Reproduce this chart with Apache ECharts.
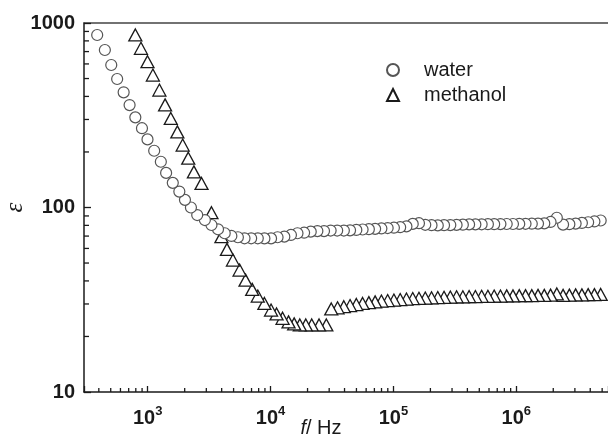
<!DOCTYPE html>
<html>
<head>
<meta charset="utf-8">
<script src="https://cdn.jsdelivr.net/npm/echarts@6/dist/echarts.min.js"></script>
<style>
html, body { margin: 0; padding: 0; background: #fff; }
#chart { width: 608px; height: 437px; }
</style>
</head>
<body>
<div id="chart"></div>
<script>
// water: permittivity vs frequency (Hz)
var waterFreq = [388, 448, 505, 564, 637, 712, 793, 898, 996, 1129, 1279, 1412, 1600, 1809, 2010, 2248, 2529,
    2919, 3303, 3735, 4234, 4796, 5420, 6136, 6950, 7870, 8910, 10090, 11400, 12940, 14650, 16560, 18750,
    21230, 24040, 27230, 30820, 34860, 39500,
    44360, 49890, 56100, 63100, 70960, 79800, 89740, 100900, 113500, 127600, 143600, 161400, 181600, 204200,
    229600, 258200, 290400, 326600, 367300, 413000, 464500, 522400, 587500, 660700, 743000, 835600, 939700,
    1057000, 1189000, 1337000, 1503000, 1690000, 1901000, 2138000, 2404000, 2704000, 3041000, 3420000,
    3846000, 4325000, 4864000];
var waterEps = [861, 714, 592, 497, 421, 359, 308, 269, 234, 203, 177, 154, 136, 122, 110, 100, 91,
    85.5, 80.4, 76.2, 72.5, 70.1, 69.0, 68.1, 68.1, 68.1, 68.0, 68.0, 69.0, 69.5, 71.0, 72.5, 73.0,
    74.0, 74.5, 74.5, 75.0, 75.0, 75.0,
    75.2, 75.6, 76.0, 76.3, 76.6, 77.0, 77.4, 77.7, 78.2, 79.0, 81.5, 82.2, 80.6, 80.2,
    80.0, 80.2, 80.3, 80.5, 80.7, 81.0, 81.0, 81.1, 81.2, 81.2, 81.3, 81.4, 81.4, 81.5, 81.6,
    81.7, 81.8, 82.0, 83.5, 88.0, 80.8, 81.2, 81.8, 82.5, 83.2, 84.0, 85.0];

// methanol
var methFreq = [793, 881, 996, 1102, 1245, 1385, 1541, 1743, 1926, 2138, 2377, 2742,
    3303, 3981, 4416, 4940, 5596, 6256, 7087, 7870, 8910, 10090, 11190, 12520, 14000, 15560, 17300,
    19350, 21630, 24810, 28440,
    31190, 35080, 39450, 44360, 49890, 56100, 63100, 70960, 79800, 89740, 100900, 113500, 127600, 143600,
    161400, 181600, 204200, 229600, 258200, 290400, 326600, 367300, 413000, 464500, 522400, 587500, 660700,
    743000, 835600, 939700, 1057000, 1189000, 1337000, 1503000, 1690000, 1901000, 2138000, 2404000,
    2704000, 3041000, 3420000, 3846000, 4325000, 4864000];
var methEps = [861, 729, 617, 522, 433, 360, 304, 257, 218, 185, 156, 135,
    93.7, 69.5, 59.3, 51.9, 45.8, 40.4, 36.0, 33.1, 30.2, 27.8, 26.5, 25.1, 24.0, 23.4, 23.1,
    23.1, 23.1, 23.1, 23.1,
    28.2, 28.6, 29.0, 29.4, 29.8, 30.2, 30.5, 30.8, 31.1, 31.3, 31.5, 31.7, 31.9, 32.1,
    32.2, 32.3, 32.4, 32.5, 32.6, 32.7, 32.8, 32.8, 32.9, 32.9, 33.0, 33.0, 33.1,
    33.1, 33.2, 33.2, 33.3, 33.3, 33.3, 33.4, 33.4, 33.5, 34.0, 33.4,
    33.5, 33.6, 33.6, 33.7, 33.7, 33.8];

var legendNames = ['water', 'methanol'];
var X_MIN = 303, X_MAX = 5.58e6;
var Y_MIN = 10, Y_MAX = 1000;
var FONT = 'Arial, "Liberation Sans", sans-serif';

var chart = echarts.init(document.getElementById('chart'));

// high frequency first, so the low-frequency markers end up on top
function toPoints(xs, ys) {
    var out = [];
    for (var i = xs.length - 1; i >= 0; i--) out.push([xs[i], ys[i]]);
    return out;
}

// minor log ticks (2..9 in each decade)
var xMinor = [], yMinor = [];
for (var d = 2; d <= 6; d++) {
    for (var k = 2; k <= 9; k++) {
        var v = k * Math.pow(10, d);
        if (v > X_MIN && v < X_MAX) xMinor.push([v, Y_MIN]);
    }
}
for (var d2 = 1; d2 <= 2; d2++) {
    for (var k2 = 2; k2 <= 9; k2++) yMinor.push([X_MIN, k2 * Math.pow(10, d2)]);
}

function minorTicks(data, dx, dy) {
    return {
        type: 'custom',
        data: data,
        silent: true,
        clip: false,
        z: 1,
        renderItem: function (params, api) {
            var p = api.coord([api.value(0), api.value(1)]);
            return {
                type: 'line',
                shape: {x1: p[0], y1: p[1], x2: p[0] + dx, y2: p[1] + dy},
                style: {stroke: '#1a1a1a', lineWidth: 1.3}
            };
        }
    };
}

var option = {
    animation: false,
    backgroundColor: '#fff',
    grid: {left: 84, top: 23, right: 0, bottom: 45, outerBoundsMode: 'none', containLabel: false},
    legend: {
        orient: 'vertical',
        left: 386,
        top: 60,
        padding: 0,
        itemGap: 5,
        itemWidth: 12,
        itemHeight: 12,
        data: legendNames,
        textStyle: {fontFamily: FONT, fontSize: 20, color: '#1a1a1a', padding: [0, 0, 0, 20]}
    },
    xAxis: [{
        type: 'log',
        min: X_MIN,
        max: X_MAX,
        name: '{i|f}{r|/ Hz}',
        nameLocation: 'middle',
        nameGap: 26,
        nameMoveOverlap: false,
        nameTextStyle: {
            padding: [0, 50, 0, 0],
            rich: {
                i: {fontFamily: FONT, fontSize: 20, fontStyle: 'italic', color: '#1a1a1a'},
                r: {fontFamily: FONT, fontSize: 20, color: '#1a1a1a'}
            }
        },
        axisLine: {onZero: false, lineStyle: {color: '#1a1a1a', width: 1.5}},
        axisTick: {inside: true, length: 6, lineStyle: {color: '#1a1a1a', width: 1.3}},
        axisLabel: {
            margin: 13,
            formatter: function (val) {
                var e = Math.log10(val), r = Math.round(e);
                if (Math.abs(e - r) > 1e-6) return '';
                return '{b|10}{s|' + r + '}';
            },
            rich: {
                b: {fontFamily: FONT, fontWeight: 'bold', fontSize: 20, color: '#1a1a1a', lineHeight: 26},
                s: {fontFamily: FONT, fontWeight: 'bold', fontSize: 13, color: '#1a1a1a', lineHeight: 14, verticalAlign: 'top'}
            }
        },
        splitLine: {show: false}
    }, {
        type: 'log',
        position: 'top',
        min: X_MIN,
        max: X_MAX,
        axisLine: {onZero: false, lineStyle: {color: '#444', width: 1.5}},
        axisTick: {show: false},
        axisLabel: {show: false},
        splitLine: {show: false}
    }],
    yAxis: {
        type: 'log',
        min: Y_MIN,
        max: Y_MAX,
        name: 'ε',
        nameLocation: 'middle',
        nameGap: 56,
        nameMoveOverlap: false,
        nameTextStyle: {fontFamily: '"Liberation Serif", serif', fontStyle: 'italic', fontSize: 25, color: '#1a1a1a'},
        axisLine: {show: true, onZero: false, lineStyle: {color: '#1a1a1a', width: 1.5}},
        axisTick: {show: true, inside: true, length: 7, lineStyle: {color: '#1a1a1a', width: 1.3}},
        axisLabel: {
            margin: 9, fontFamily: FONT, fontWeight: 'bold', fontSize: 20, color: '#1a1a1a',
            formatter: function (val) { return String(Math.round(val)); }
        },
        splitLine: {show: false}
    },
    series: [
        minorTicks(xMinor, 0, -4),
        minorTicks(yMinor, 5, 0),
        {
            name: 'methanol',
            type: 'scatter',
            symbol: 'triangle',
            symbolSize: [13, 12],
            z: 2,
            data: toPoints(methFreq, methEps),
            itemStyle: {color: '#fff', borderColor: '#1a1a1a', borderWidth: 1.3, opacity: 1}
        },
        {
            name: 'water',
            type: 'scatter',
            symbol: 'circle',
            symbolSize: 11,
            z: 3,
            data: toPoints(waterFreq, waterEps),
            itemStyle: {color: '#fff', borderColor: '#555', borderWidth: 1.2, opacity: 1}
        }
    ]
};

chart.setOption(option);
</script>
</body>
</html>
